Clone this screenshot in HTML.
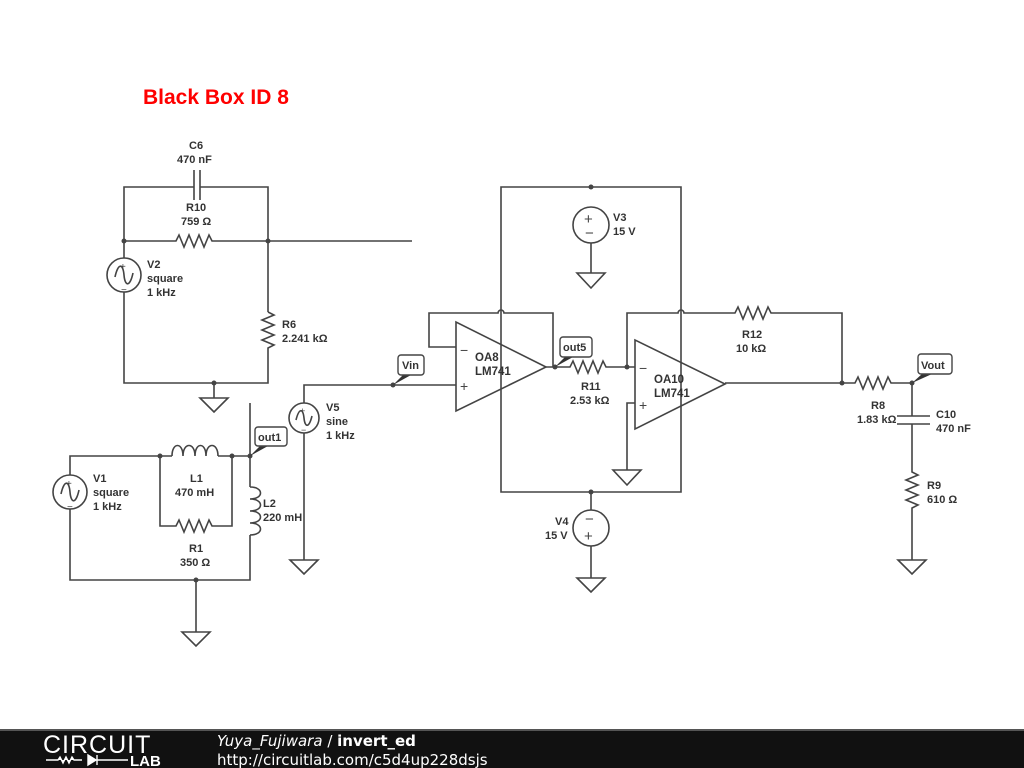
<!DOCTYPE html>
<html><head><meta charset="utf-8"><style>
html,body{margin:0;padding:0;background:#fff;}
svg{display:block;}
text{font-family:"Liberation Sans",sans-serif;font-weight:bold;font-size:11px;fill:#333;}
.w{stroke:#444;stroke-width:1.6;fill:none;}
</style></head><body>
<svg width="1024" height="768" viewBox="0 0 1024 768" xmlns="http://www.w3.org/2000/svg">
<rect width="1024" height="768" fill="#fff"/>
<text x="143" y="104" style="font-size:21px;fill:#f00;">Black Box ID 8</text>

<g class="w">
<path d="M124 258V187H194M200 187H268V312"/>
<path d="M194 170V200M200 170V200"/>
<path d="M124 241H176l3 -6 5 12 5 -12 5 12 5 -12 5 12 5 -12 3 6H412"/>
<path d="M268 312l6 3 -12 5 12 5 -12 5 12 5 -12 5 12 5 -6 3V383H124V292"/>
<circle cx="124" cy="275" r="17"/>
<path d="M115 277c3 -14 8 -14 9 -2s6 12 9 -2"/>
<path d="M214 383V398M200 398H228L214 412Z"/>

<path d="M70 475V456H172"/>
<path d="M172 456c0 -14 11 -14 11 0c0 -14 12 -14 12 0c0 -14 11 -14 11 0c0 -14 12 -14 12 0"/>
<path d="M218 456H250"/>
<path d="M160 456V526H176l3 -6 5 12 5 -12 5 12 5 -12 5 12 5 -12 3 6H232V456"/>
<path d="M250 403V487"/>
<path d="M250 487c14 0 14 12 0 12c14 0 14 12 0 12c14 0 14 12 0 12c14 0 14 12 0 12"/>
<path d="M250 535V580H70V509"/>
<circle cx="70" cy="492" r="17"/>
<path d="M61 494c3 -14 8 -14 9 -2s6 12 9 -2"/>
<path d="M196 580V632M182 632H210L196 646Z"/>

<path d="M304 403V385H456"/>
<circle cx="304" cy="418" r="15"/>
<path d="M296 420c3 -12 7 -12 8 -2s5 10 8 -2"/>
<path d="M304 433V560M290 560H318L304 574Z"/>

<path d="M456 322V411L546 367Z"/>
<path d="M456 347H429V313H498a3 3 0 0 1 6 0H553V367H546"/>
<path d="M501 342V187H681V492H501V342"/>
<circle cx="591" cy="225" r="18"/>
<path d="M591 243V273M577 273H605L591 288Z"/>
<path d="M591 492V510"/>
<circle cx="591" cy="528" r="18"/>
<path d="M591 546V578M577 578H605L591 592Z"/>
<path d="M553 367H570l3 -6 5 12 5 -12 5 12 5 -12 5 12 5 -12 3 6H635"/>
<path d="M635 340V429L725 384Z"/>
<path d="M635 403H627V470M613 470H641L627 485Z"/>
<path d="M627 367V313H678a3 3 0 0 1 6 0H735l3 -6 5 12 5 -12 5 12 5 -12 5 12 5 -12 3 6H842V383"/>
<path d="M725 383H855l3 -6 5 12 5 -12 5 12 5 -12 5 12 5 -12 3 6H912V416"/>
<path d="M897 416H930M897 424H930"/>
<path d="M912 424V472l6 3 -12 5 12 5 -12 5 12 5 -12 5 12 5 -6 3V560M898 560H926L912 574Z"/>
</g>
<g style="font-family:'DejaVu Sans',sans-serif">
<text x="120" y="270" style="font-size:10px;font-weight:normal;fill:#444">+</text>
<text x="121" y="293" style="font-size:10px;font-weight:normal;fill:#444">−</text>
<text x="66" y="487" style="font-size:10px;font-weight:normal;fill:#444">+</text>
<text x="67" y="510" style="font-size:10px;font-weight:normal;fill:#444">−</text>
<text x="300" y="414" style="font-size:9px;font-weight:normal;fill:#444">+</text>
<text x="301" y="433" style="font-size:9px;font-weight:normal;fill:#444">−</text>
</g>
<text x="584" y="224" style="font-size:15px;font-weight:normal;fill:#444">+</text>
<text x="585" y="238" style="font-size:15px;font-weight:normal;fill:#444">−</text>
<text x="585" y="524" style="font-size:15px;font-weight:normal;fill:#444">−</text>
<text x="584" y="541" style="font-size:15px;font-weight:normal;fill:#444">+</text>
<text x="460" y="355" style="font-size:14px;font-weight:normal;fill:#444">−</text>
<text x="460" y="391" style="font-size:14px;font-weight:normal;fill:#444">+</text>
<text x="639" y="373" style="font-size:14px;font-weight:normal;fill:#444">−</text>
<text x="639" y="410" style="font-size:14px;font-weight:normal;fill:#444">+</text>

<g fill="#444">
<circle cx="124" cy="241" r="2.5"/><circle cx="268" cy="241" r="2.5"/><circle cx="214" cy="383" r="2.5"/>
<circle cx="160" cy="456" r="2.5"/><circle cx="232" cy="456" r="2.5"/><circle cx="250" cy="456" r="2.5"/>
<circle cx="196" cy="580" r="2.5"/><circle cx="393" cy="385" r="2.5"/><circle cx="555" cy="367" r="2.5"/>
<circle cx="627" cy="367" r="2.5"/><circle cx="591" cy="187" r="2.5"/><circle cx="591" cy="492" r="2.5"/>
<circle cx="842" cy="383" r="2.5"/><circle cx="912" cy="383" r="2.5"/>
</g>
<g>
<path d="M393 385L403 375H411Z" fill="#333"/>
<rect x="398" y="355" width="26" height="20" rx="3" fill="#fff" stroke="#444" stroke-width="1.4"/>
<text x="402" y="369">Vin</text>
<path d="M250 456L260 446H268Z" fill="#333"/>
<rect x="255" y="427" width="32" height="19" rx="3" fill="#fff" stroke="#444" stroke-width="1.4"/>
<text x="258" y="441">out1</text>
<path d="M555 367L565 357H573Z" fill="#333"/>
<rect x="560" y="337" width="32" height="20" rx="3" fill="#fff" stroke="#444" stroke-width="1.4"/>
<text x="563" y="351">out5</text>
<path d="M912 383L922 374H932Z" fill="#333"/>
<rect x="918" y="354" width="34" height="20" rx="3" fill="#fff" stroke="#444" stroke-width="1.4"/>
<text x="921" y="369">Vout</text>
</g>

<text x="189" y="149">C6</text><text x="177" y="163">470 nF</text>
<text x="186" y="211">R10</text><text x="181" y="225">759 Ω</text>
<text x="147" y="268">V2</text><text x="147" y="282">square</text><text x="147" y="296">1 kHz</text>
<text x="282" y="328">R6</text><text x="282" y="342">2.241 kΩ</text>
<text x="326" y="411">V5</text><text x="326" y="425">sine</text><text x="326" y="439">1 kHz</text>
<text x="93" y="482">V1</text><text x="93" y="496">square</text><text x="93" y="510">1 kHz</text>
<text x="190" y="482">L1</text><text x="175" y="496">470 mH</text>
<text x="263" y="507">L2</text><text x="263" y="521">220 mH</text>
<text x="189" y="552">R1</text><text x="180" y="566">350 Ω</text>
<text x="475" y="361" style="font-size:11.5px">OA8</text><text x="475" y="375" style="font-size:11.5px">LM741</text>
<text x="654" y="383" style="font-size:11.5px">OA10</text><text x="654" y="397" style="font-size:11.5px">LM741</text>
<text x="581" y="390">R11</text><text x="570" y="404">2.53 kΩ</text>
<text x="613" y="221">V3</text><text x="613" y="235">15 V</text>
<text x="555" y="525">V4</text><text x="545" y="539">15 V</text>
<text x="742" y="338">R12</text><text x="736" y="352">10 kΩ</text>
<text x="871" y="409">R8</text><text x="857" y="423">1.83 kΩ</text>
<text x="936" y="418">C10</text><text x="936" y="432">470 nF</text>
<text x="927" y="489">R9</text><text x="927" y="503">610 Ω</text>

<rect x="0" y="729" width="1024" height="39" fill="#111"/>
<rect x="0" y="729" width="1024" height="2" fill="#555"/>
<text x="43" y="753" style="font-size:25px;font-weight:normal;fill:#fff;letter-spacing:1px;">CIRCUIT</text>
<path d="M46 760H58l2 -3 3 6 3 -6 3 6 3 -6 2 3H82M88 755V765L96 760ZM97 755V765M97 760H128" stroke="#fff" stroke-width="1.4" fill="#fff"/>
<text x="130" y="766" style="font-size:15px;font-weight:bold;fill:#fff;">LAB</text>
<text x="217" y="746" style="font-size:15px;font-weight:normal;font-style:italic;fill:#fff;font-family:'DejaVu Sans',sans-serif;">Yuya_Fujiwara <tspan font-style="normal">/</tspan> <tspan font-style="normal" font-weight="bold">invert_ed</tspan></text>
<text x="217" y="765" style="font-size:15px;font-weight:normal;fill:#fff;font-family:'DejaVu Sans',sans-serif;">http://circuitlab.com/c5d4up228dsjs</text>
</svg>
</body></html>
